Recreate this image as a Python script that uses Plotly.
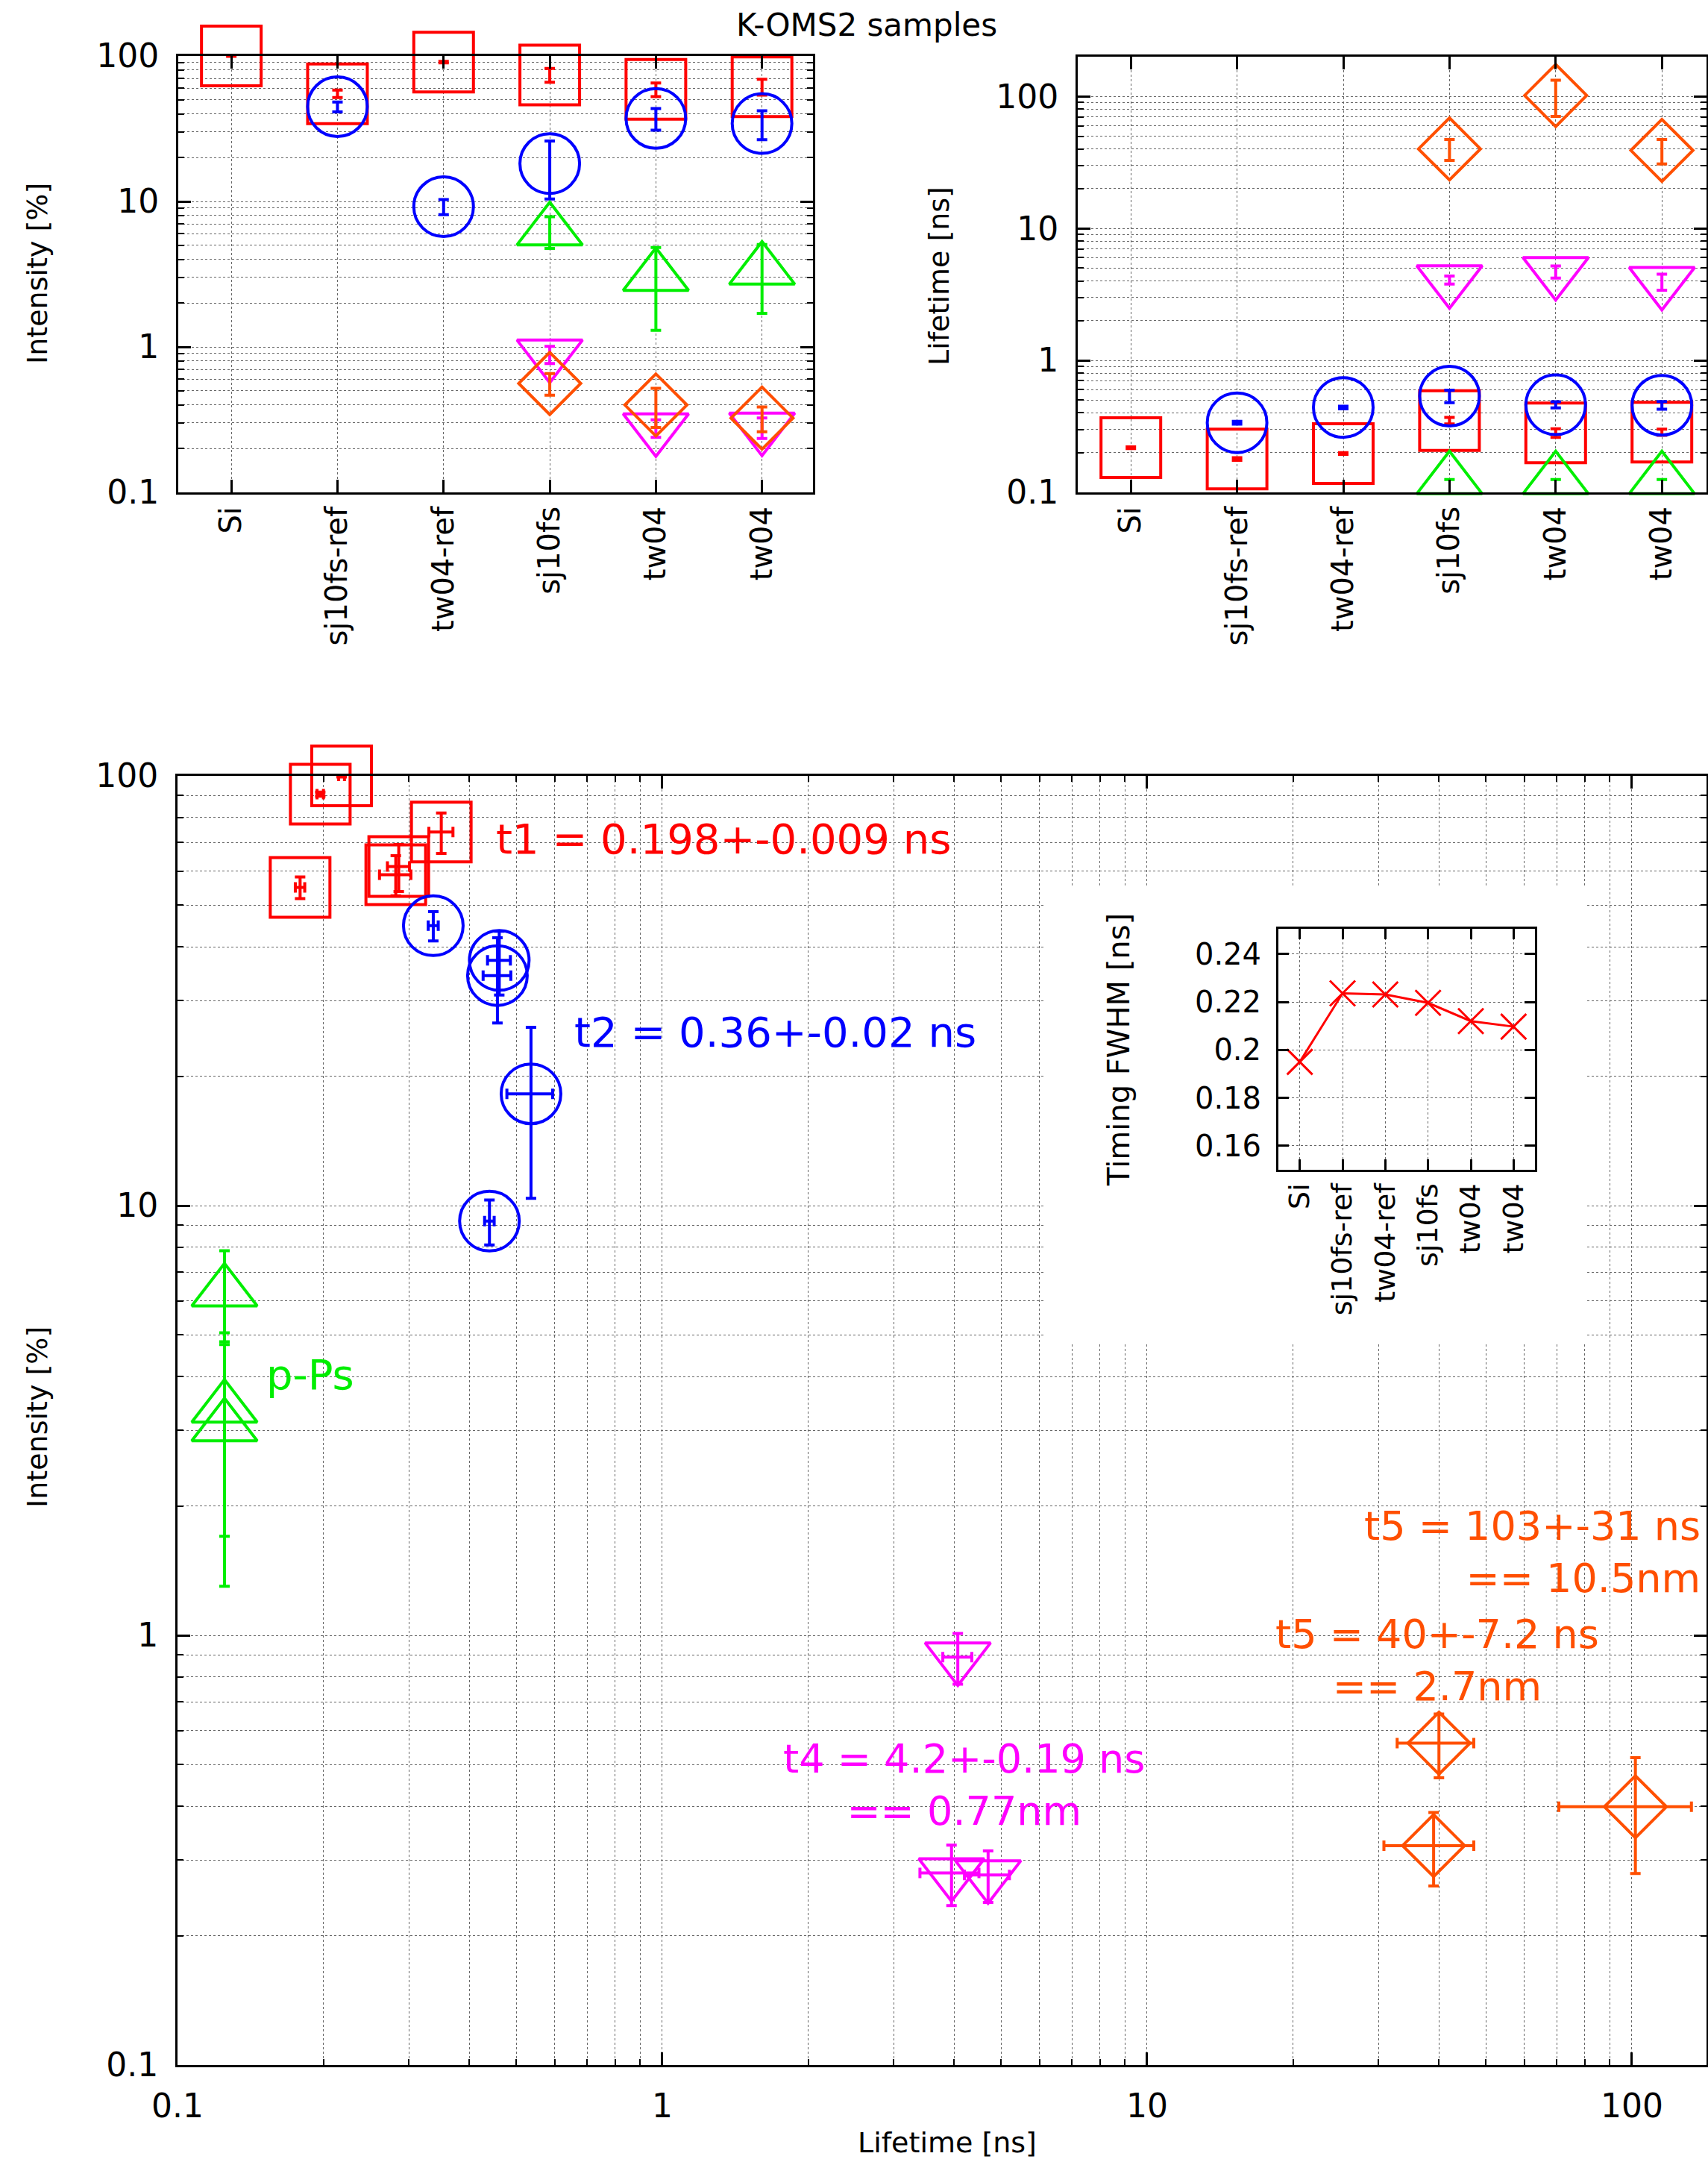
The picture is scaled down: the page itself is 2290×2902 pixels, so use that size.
import plotly.graph_objects as go

# ---------------- data ----------------
samples = ["Si", "sj10fs-ref", "tw04-ref", "sj10fs", "tw04", "tw04"]
cat_pos = [0, 1, 2, 3, 4, 5]

tau1 = [0.218, 0.179, 0.197, 0.35, 0.282, 0.286]
tau1_err = [0.003, 0.004, 0.003, 0.02, 0.021, 0.015]
I1 = [100, 55, 90.7, 74, 58.9, 61.5]
I1_err = [0.6, 3.2, 1.0, 8.0, 6.3, 7.7]

tau2 = [None, 0.337, 0.44, 0.536, 0.461, 0.457]
tau2_err = [None, 0.008, 0.01, 0.058, 0.025, 0.03]
I2 = [None, 44.8, 9.2, 18.2, 37.2, 34.3]
I2_err = [None, 3.5, 1.1, 7.8, 6.3, 7.7]

tau3 = [None, None, None, 0.125, 0.125, 0.125]
tau3_err = [None, None, None, 0.0, 0.0, 0.0]
I3 = [None, None, None, 6.3, 3.06, 3.38]
I3_err = [None, None, None, 1.55, 1.76, 1.68]

tau4 = [None, None, None, 4.07, 4.70, 3.95]
tau4_err = [None, None, None, 0.28, 0.5, 0.55]
I4 = [None, None, None, 0.89, 0.277, 0.280]
I4_err = [None, None, None, 0.12, 0.038, 0.045]

tau5 = [None, None, None, 40.0, 101.7, 39.0]
tau5_err = [None, None, None, 7.2, 31.0, 8.2]
I5 = [None, None, None, 0.561, 0.399, 0.324]
I5_err = [None, None, None, 0.095, 0.12, 0.063]

fwhm = [0.195, 0.2236, 0.2231, 0.2196, 0.2120, 0.2097]

# ---------------- styling ----------------
W, H = 2290, 2902
FONT = "DejaVu Sans, Verdana, sans-serif"
RED, BLUE, GREEN, MAG, ORA = "#ff0000", "#0000ff", "#00ee00", "#ff00ff", "#ff4f00"

series = [
    (tau1, tau1_err, I1, I1_err, RED, "square-open", 80),
    (tau2, tau2_err, I2, I2_err, BLUE, "circle-open", 80),
    (tau3, tau3_err, I3, I3_err, GREEN, "triangle-up-open", 76),
    (tau4, tau4_err, I4, I4_err, MAG, "triangle-down-open", 76),
    (tau5, tau5_err, I5, I5_err, ORA, "diamond-open", 64),
]


def dom_x(a, b):
    return [a / W, b / W]


def dom_y(top, bottom):
    return [1 - bottom / H, 1 - top / H]


def err(arr, col):
    return dict(type="data", array=arr, color=col, thickness=4, width=7, visible=True)


fig = go.Figure()

for tau, tau_e, inten, inten_e, col, sym, size in series:
    mk = dict(symbol=sym, size=size, color=col, line=dict(width=4, color=col))
    # top-left: intensity by sample
    xs = [c if v is not None else None for c, v in zip(cat_pos, inten)]
    fig.add_trace(go.Scatter(x=xs, y=inten, mode="markers", marker=mk, error_y=err(inten_e, col),
                             cliponaxis=False, xaxis="x", yaxis="y", showlegend=False))
    # top-right: lifetime by sample
    xs = [c if v is not None else None for c, v in zip(cat_pos, tau)]
    fig.add_trace(go.Scatter(x=xs, y=tau, mode="markers", marker=mk, error_y=err(tau_e, col),
                             cliponaxis=False, xaxis="x2", yaxis="y2", showlegend=False))
    # bottom: intensity vs lifetime
    fig.add_trace(go.Scatter(x=tau, y=inten, mode="markers", marker=mk,
                             error_x=err(tau_e, col), error_y=err(inten_e, col),
                             cliponaxis=False, xaxis="x3", yaxis="y3", showlegend=False))

# inset
fig.add_trace(go.Scatter(x=cat_pos, y=fwhm, mode="lines+markers",
                         line=dict(color=RED, width=3),
                         marker=dict(symbol="x-thin", size=34, line=dict(width=3, color=RED), color=RED),
                         xaxis="x4", yaxis="y4", showlegend=False))

GRID = dict(showgrid=True, gridcolor="#666666", griddash="dot", gridwidth=1.2)
BASE = dict(showline=True, linecolor="black", linewidth=3, mirror="allticks", ticks="inside",
            ticklen=17, tickwidth=3, tickcolor="black", zeroline=False, automargin=False, **GRID)
MINOR = dict(dtick="D1", ticks="inside", ticklen=8, tickwidth=2, tickcolor="black",
             showgrid=True, gridcolor="#666666", griddash="dot", gridwidth=1.2)
NUMFONT = dict(family=FONT, size=44, color="black")

cat_axis = dict(BASE, tickmode="array", tickvals=cat_pos, ticktext=samples, tickangle=-90,
                tickfont=dict(family=FONT, size=40, color="black"))

fig.update_layout(
    width=W, height=H, autosize=False,
    margin=dict(l=0, r=0, t=0, b=0, pad=0, autoexpand=False),
    paper_bgcolor="white", plot_bgcolor="white",
    xaxis=dict(cat_axis, domain=dom_x(239, 1090), range=[-0.5, 5.48], anchor="y"),
    yaxis=dict(BASE, type="log", range=[-1, 2], dtick=1, minor=MINOR, tickfont=NUMFONT,
               domain=dom_y(75, 660), anchor="x", ticklabelstandoff=14),
    xaxis2=dict(cat_axis, domain=dom_x(1445, 2288), range=[-0.5, 5.42], anchor="y2"),
    yaxis2=dict(BASE, type="log", range=[-1, 2.301], dtick=1, minor=MINOR, tickfont=NUMFONT,
                domain=dom_y(76, 660), anchor="x2", ticklabelstandoff=14),
    xaxis3=dict(BASE, type="log", range=[-1, 2.154], dtick=1, minor=MINOR, tickfont=NUMFONT,
                domain=dom_x(238, 2288), anchor="y3", ticklabelstandoff=14),
    yaxis3=dict(BASE, type="log", range=[-1, 2], dtick=1, minor=MINOR, tickfont=NUMFONT,
                domain=dom_y(1040, 2768), anchor="x3", ticklabelstandoff=14),
    xaxis4=dict(BASE, tickmode="array", tickvals=cat_pos, ticktext=samples, tickangle=-90,
                tickfont=dict(family=FONT, size=38, color="black"), ticklen=14,
                domain=dom_x(1714, 2058), range=[-0.5, 5.5], anchor="y4"),
    yaxis4=dict(BASE, range=[0.15, 0.2505], tick0=0.16, dtick=0.02, ticklen=14,
                tickfont=dict(family=FONT, size=40, color="black"),
                domain=dom_y(1245, 1568), anchor="x4", ticklabelstandoff=12),
)

# white backdrop behind the inset (between main grid and main traces), data coords of main axes
fig.add_shape(type="rect", xref="x3", yref="y3",
              x0=6.13, x1=80.3, y0=4.79, y1=55.6,
              fillcolor="white", line=dict(width=0), layer="between")


def ann(text, x, y, size, color="black", xanchor="center", angle=0, align="center"):
    fig.add_annotation(text=text, x=x / W, y=1 - y / H, xref="paper", yref="paper",
                       xanchor=xanchor, yanchor="middle", showarrow=False, textangle=angle,
                       align=align, font=dict(family=FONT, size=size, color=color))


ann("K-OMS2 samples", 1162, 33, 42)
ann("Intensity [%]", 50, 367, 38, angle=-90)
ann("Lifetime [ns]", 1259, 370, 38, angle=-90)
ann("Intensity [%]", 50, 1900, 38, angle=-90)
ann("Lifetime [ns]", 1270, 2872, 38)
ann("Timing FWHM [ns]", 1500, 1407, 40, angle=-90)

ann("t1 = 0.198+-0.009 ns", 663, 1124, 56, RED, "left")
ann("t2 = 0.36+-0.02 ns", 768, 1383, 56, BLUE, "left")
ann("p-Ps", 355, 1842, 56, GREEN, "left")
ann("t4 = 4.2+-0.19 ns<br>== 0.77nm", 1292, 2392, 54, MAG)
ann("t5 = 103+-31 ns<br>== 10.5nm", 2282, 2080, 54, ORA, "right", align="right")
ann("t5 = 40+-7.2 ns<br>== 2.7nm", 1927, 2225, 54, ORA)

fig.write_html("out.html", config={"displayModeBar": False},
               post_script="document.body.style.margin='0';")
